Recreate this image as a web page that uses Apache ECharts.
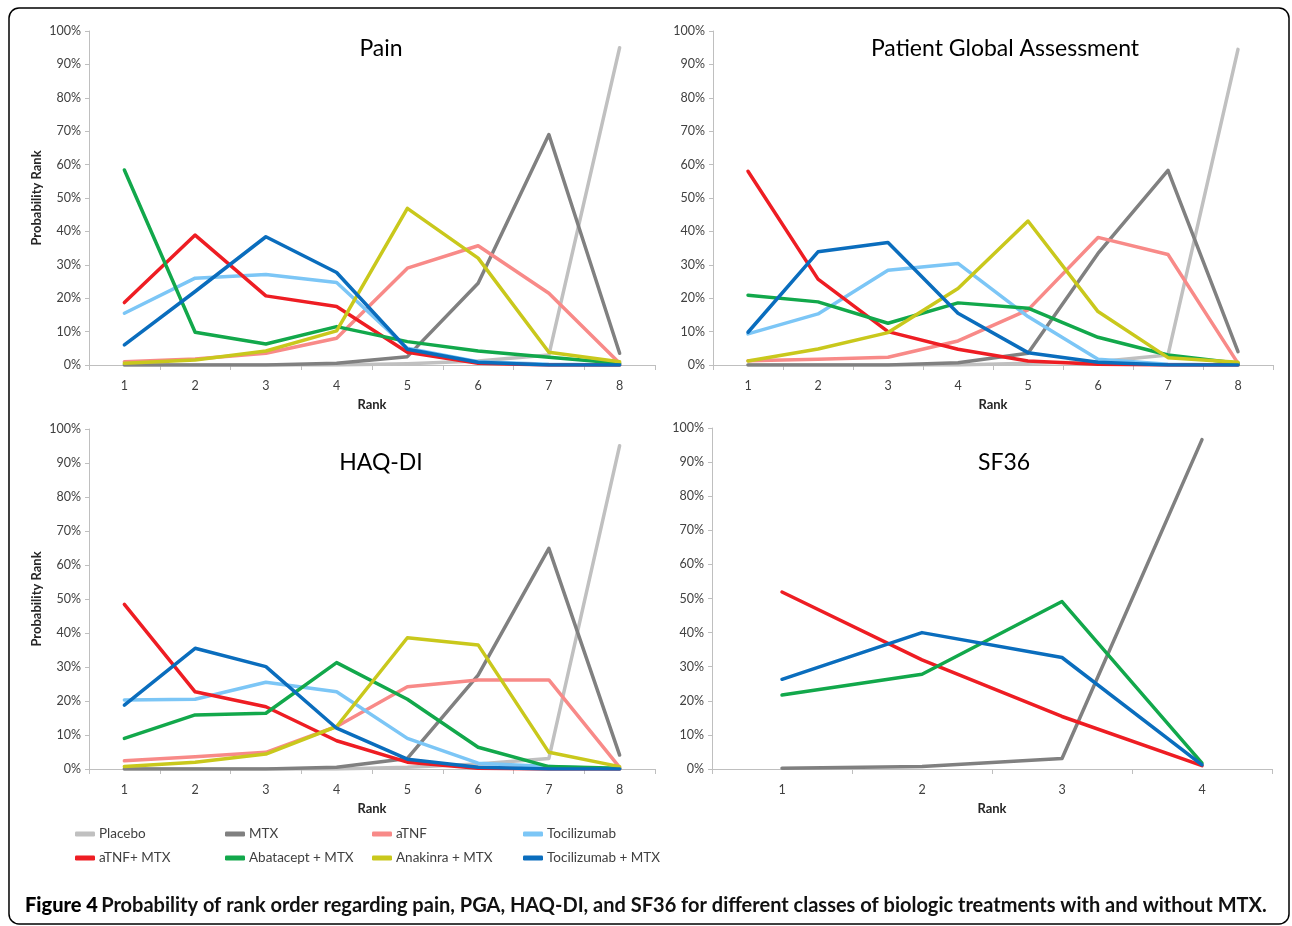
<!DOCTYPE html>
<html><head><meta charset="utf-8">
<script src="https://cdn.jsdelivr.net/npm/echarts@6/dist/echarts.min.js"></script>
<style>html,body{margin:0;padding:0;background:#fff}#c{width:1292px;height:926px}</style>
</head><body><div id="c"></div>
<script>
const ranks8 = ['1','2','3','4','5','6','7','8'];
const ranks4 = ['1','2','3','4'];
const yTicks = [0,10,20,30,40,50,60,70,80,90,100];
const seriesNames = ['Placebo','MTX','aTNF','Tocilizumab','aTNF+ MTX','Abatacept + MTX','Anakinra + MTX','Tocilizumab + MTX'];
const seriesColors = ['#c0c0c0','#808080','#f88a88','#7cc6f6','#ee1d23','#12a84b','#c9c81c','#0a6dbd'];
const panelTitles = ['Pain','Patient Global Assessment','HAQ-DI','SF36'];

// Pain
const painPlacebo = [0,0,0,0,0.4,1.2,3,95];
const painMTX = [0,0,0,0.5,2.5,24.5,69,3.5];
const painATNF = [1,1.8,3.5,8,29,35.7,21.5,0.5];
const painToci = [15.5,26,27.1,24.7,5,1,0.2,0];
const painATNFMTX = [18.7,38.9,20.7,17.5,3.8,0.5,0,0];
const painAbaMTX = [58.4,9.8,6.3,11.5,7,4.2,2.3,0.5];
const painAnaMTX = [0.5,1.5,4.2,10.2,46.9,32,3.8,1];
const painTociMTX = [6,22,38.4,27.7,4.7,0.8,0,0];

// Patient Global Assessment
const pgaPlacebo = [0,0,0,0,0.5,1,3,94.5];
const pgaMTX = [0,0,0,0.7,3.5,33.4,58.3,4];
const pgaATNF = [1.3,1.7,2.3,7.2,16.5,38.2,33.1,0.5];
const pgaToci = [9.3,15.3,28.4,30.4,14.5,1.7,0.2,0];
const pgaATNFMTX = [58,25.7,10,4.7,1.2,0.2,0,0];
const pgaAbaMTX = [20.9,18.9,12.5,18.6,17,8.3,3,0.5];
const pgaAnaMTX = [1.2,4.8,9.7,22.9,43.1,16,2.2,0.8];
const pgaTociMTX = [9.8,33.9,36.7,15.5,3.7,0.8,0,0];

// HAQ-DI
const haqPlacebo = [0,0,0,0,0.5,1.5,3.1,95.1];
const haqMTX = [0,0,0,0.5,3.1,27.6,64.9,4.1];
const haqATNF = [2.4,3.6,4.9,12.5,24.2,26.2,26.2,0.5];
const haqToci = [20.3,20.5,25.5,22.7,9,1.7,0.7,0];
const haqATNFMTX = [48.4,22.7,18.3,8.3,2,0.2,0,0];
const haqAbaMTX = [9,15.9,16.4,31.3,20.5,6.4,0.7,0.2];
const haqAnaMTX = [0.7,2,4.4,12.5,38.6,36.5,4.9,0.7];
const haqTociMTX = [18.8,35.5,30.1,12,2.9,0.5,0,0];

// SF36
const sfMTX = [0.2,0.7,3.1,96.6];
const sfATNFMTX = [51.9,32,15.4,1];
const sfAbaMTX = [21.7,27.8,49.1,1.7];
const sfTociMTX = [26.3,40,32.7,1.2];

const panelData = [
  [painPlacebo,painMTX,painATNF,painToci,painATNFMTX,painAbaMTX,painAnaMTX,painTociMTX],
  [pgaPlacebo,pgaMTX,pgaATNF,pgaToci,pgaATNFMTX,pgaAbaMTX,pgaAnaMTX,pgaTociMTX],
  [haqPlacebo,haqMTX,haqATNF,haqToci,haqATNFMTX,haqAbaMTX,haqAnaMTX,haqTociMTX],
  [null,sfMTX,null,null,sfATNFMTX,sfAbaMTX,null,sfTociMTX]
];
const panelCats = [ranks8,ranks8,ranks8,ranks4];

const FONT = 'Lato, "Liberation Sans", sans-serif';
const axisGray = '#bfbfbf';
const labelColor = '#404040';

const grids = [
  {left:89, top:31, width:566, height:334},
  {left:713, top:31, width:560, height:334},
  {left:89, top:429, width:566, height:340},
  {left:712, top:428, width:560, height:341}
];
const titleCenters = [[381,49],[1005,49],[381,463],[1004,463]];

const xAxes = [], yAxes = [], series = [], titleTexts = [];
grids.forEach((g,i)=>{
  xAxes.push({
    type:'category', gridIndex:i, data:panelCats[i], boundaryGap:true,
    name:'Rank', nameLocation:'middle', nameGap:33,
    nameTextStyle:{fontFamily:FONT, fontWeight:'bold', fontSize:13, color:'#262626'},
    axisLine:{lineStyle:{color:axisGray, width:1}},
    axisTick:{show:true, length:5, alignWithLabel:false, lineStyle:{color:axisGray}},
    axisLabel:{fontFamily:FONT, fontSize:12.5, color:labelColor, margin:14}
  });
  yAxes.push({
    type:'value', gridIndex:i, min:0, max:100, interval:10,
    name:(i===0||i===2)?'Probability Rank':'', nameLocation:'middle', nameGap:46, nameRotate:90,
    nameTextStyle:{fontFamily:FONT, fontWeight:'bold', fontSize:13, color:'#262626'},
    axisLine:{show:true, lineStyle:{color:axisGray, width:1}},
    axisTick:{show:true, length:4, lineStyle:{color:axisGray}},
    splitLine:{show:false},
    axisLabel:{fontFamily:FONT, fontSize:12.5, color:labelColor, margin:8, formatter:'{value}%'}
  });
  titleTexts.push({
    type:'text', x:titleCenters[i][0], y:titleCenters[i][1], z:10,
    style:{text:panelTitles[i], align:'center', verticalAlign:'middle',
      font:'normal 23px ' + FONT, fill:'#000'}
  });
  panelData[i].forEach((d,k)=>{
    if(!d) return;
    series.push({
      type:'line', name:seriesNames[k], xAxisIndex:i, yAxisIndex:i, data:d,
      symbol:'none', smooth:false, z:2+k,
      lineStyle:{color:seriesColors[k], width:3.5, cap:'round', join:'round'},
      itemStyle:{color:seriesColors[k]}, emphasis:{disabled:true}, animation:false
    });
  });
});

const legendCols = [75,225,372,523];
const legendRows = [834,858];
const legends = seriesNames.map((n,k)=>({
  data:[n], left:legendCols[k%4], top:legendRows[Math.floor(k/4)]-7, padding:0,
  icon:'roundRect', itemWidth:20, itemHeight:5, itemGap:0,
  selectedMode:false,
  textStyle:{fontFamily:FONT, fontSize:13.5, color:labelColor, padding:[0,0,0,-1]}
}));

const chart = echarts.init(document.getElementById('c'), null, {renderer:'canvas'});
chart.setOption({
  backgroundColor:'#fff',
  animation:false,
  grid:grids,
  xAxis:xAxes,
  yAxis:yAxes,
  legend:legends,
  series:series,
  graphic:[
    {type:'rect', shape:{x:9, y:8, width:1280, height:916, r:10}, style:{fill:'none', stroke:'#000', lineWidth:1.5}, z:-1},
    ...titleTexts,
    {type:'text', x:25, y:906, style:{
      text:'{b|Figure 4} {n|Probability of rank order regarding pain, PGA, HAQ-DI, and SF36 for different classes of biologic treatments with and without MTX.}',
      verticalAlign:'middle',
      rich:{
        b:{fontFamily:FONT, fontWeight:'900', fontSize:20, fill:'#000'},
        n:{fontFamily:FONT, fontWeight:'bold', fontSize:20, fill:'#111'}
      }
    }}
  ]
});
</script></body></html>
